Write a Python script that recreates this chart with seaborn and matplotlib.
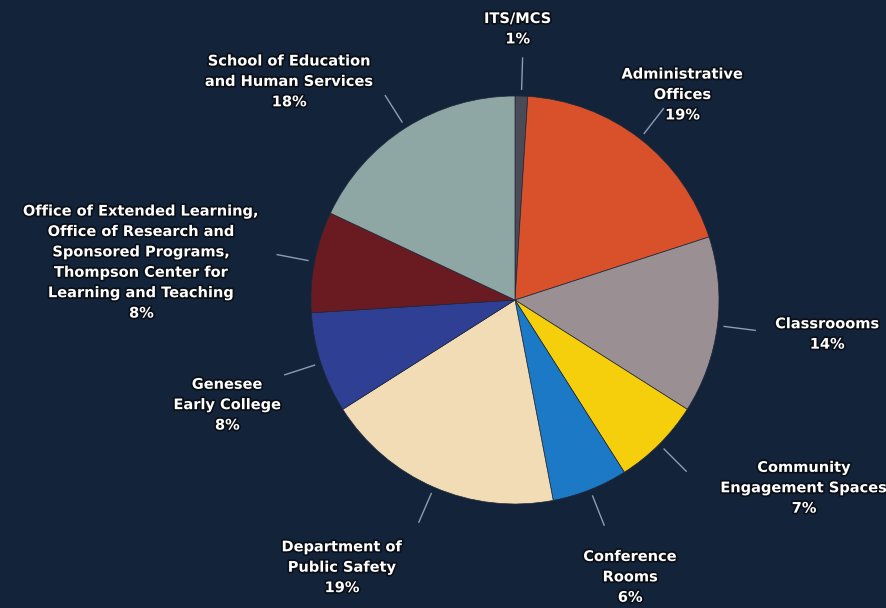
import numpy as np
import matplotlib
matplotlib.use("Agg")
import matplotlib.pyplot as plt
import matplotlib.patheffects as pe
import seaborn as sns

# data
labels = ["ITS/MCS", "Administrative\nOffices", "Classroooms",
          "Community\nEngagement Spaces", "Conference\nRooms",
          "Department of\nPublic Safety", "Genesee\nEarly College",
          "Office of Extended Learning,\nOffice of Research and\nSponsored Programs,\nThompson Center for\nLearning and Teaching",
          "School of Education\nand Human Services"]
shares = [1, 19, 14, 7, 6, 19, 8, 8, 18]
colors = ["#4a4b57", "#d9512a", "#9a9094", "#f6cf0c", "#1c79c6",
          "#f1dcb6", "#2f3f93", "#6a1b21", "#8fa7a4"]

# label placement (radius, angle offset in degrees) relative to slice middle
label_pos = [(1.33, 1.2), (1.30, -1.4), (1.54, 1), (1.69, 12),
             (1.47, 1), (1.56, -9.5), (1.50, 2), (1.84, 5), (1.54, 13.5)]

bg = "#13243a"
sns.set_theme(style="dark", rc={"figure.facecolor": bg, "axes.facecolor": bg})
plt.rcParams['font.family'] = ['DejaVu Sans']

fig = plt.figure(figsize=(8.87, 6.08), dpi=100)
ax = fig.add_axes([0, 0, 1, 1])

wedges, _ = ax.pie(shares, colors=colors, startangle=90, counterclock=False,
                   radius=1, center=(0, 0),
                   wedgeprops=dict(linewidth=0.5, edgecolor="#20283a"))

halo = [pe.withStroke(linewidth=2.5, foreground="#0a0f18")]
for w, lab, s, (r, off) in zip(wedges, labels, shares, label_pos):
    mid = np.deg2rad((w.theta1 + w.theta2) / 2)
    # leader line
    ax.plot([1.03 * np.cos(mid), 1.19 * np.cos(mid)],
            [1.03 * np.sin(mid), 1.19 * np.sin(mid)],
            color="#8d9db3", lw=1.0, solid_capstyle="butt")
    ang = mid + np.deg2rad(off)
    ax.text(r * np.cos(ang), r * np.sin(ang), f"{lab}\n{s}%",
            ha="center", va="center", color="white", fontsize=10.5,
            fontweight="bold", linespacing=1.45, path_effects=halo)

ax.set_aspect("equal")
ax.set_xlim(-515 / 204, 372 / 204)
ax.set_ylim(-308 / 204, 300 / 204)
ax.axis("off")

fig.savefig("out.png", dpi=100, facecolor=bg)
